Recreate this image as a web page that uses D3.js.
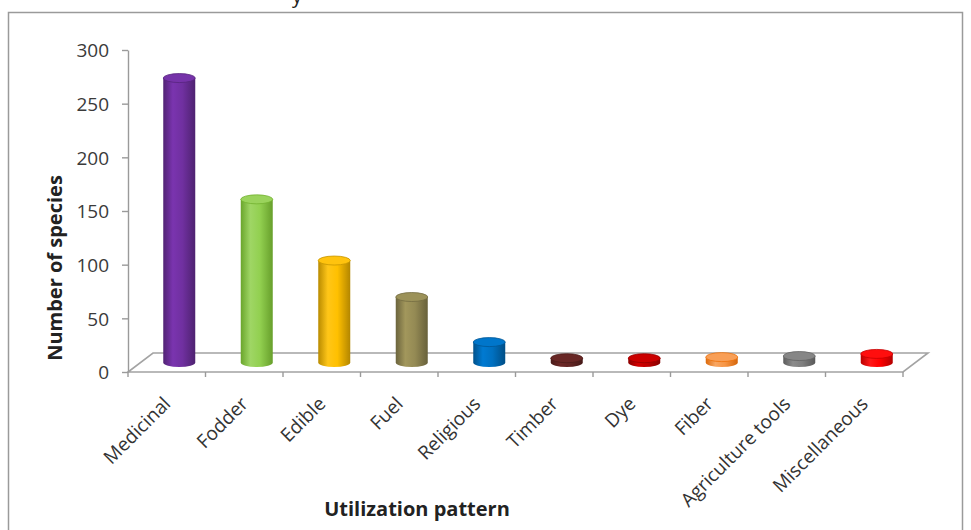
<!DOCTYPE html>
<html><head><meta charset="utf-8">
<script src="https://cdn.jsdelivr.net/npm/d3@7"></script>
<style>body{margin:0;background:#fff} svg{display:block}</style>
</head><body>
<svg id="chart" width="971" height="530"></svg>
<script>
// Plant species by utilization pattern
const categories = ["Medicinal", "Fodder", "Edible", "Fuel", "Religious", "Timber", "Dye", "Fiber", "Agriculture tools", "Miscellaneous"];
const speciesCounts = [265, 152, 95, 61, 19, 4, 4, 5, 6, 8];
const barColors = ["#7030A0", "#92D050", "#FFC000", "#948A54", "#0070C0", "#632523", "#C00000", "#F79646", "#7F7F7F", "#FF0000"];
const yTicks = [0, 50, 100, 150, 200, 250, 300];

const svg = d3.select("#chart");
const plot = { left: 128, right: 903, top: 50, bottom: 372 };
const depth = { dx: 25, dy: -19 };   // perspective offset of the floor's back edge
const font = "'Open Sans', 'Liberation Sans', sans-serif";

// outer frame
svg.append("rect").attr("x", 8.5).attr("y", 12.5).attr("width", 954).attr("height", 530)
  .attr("fill", "#fff").attr("stroke", "#9a9a9a").attr("stroke-width", 1.5);

// fragment of the caption line above the frame
svg.append("text").attr("x", 292).attr("y", 3).attr("font-family", font)
  .attr("font-size", 20).attr("fill", "#222").text("y");

const x = d3.scaleBand().domain(categories).range([plot.left, plot.right]).padding(0);
const y = d3.scaleLinear().domain([0, 300]).range([plot.bottom, plot.top]);

// floor of the 3D plot area
const floor = d3.path();
floor.moveTo(plot.left, plot.bottom);
floor.lineTo(plot.right, plot.bottom);
floor.lineTo(plot.right + depth.dx, plot.bottom + depth.dy);
floor.lineTo(plot.left + depth.dx, plot.bottom + depth.dy);
floor.closePath();
svg.append("path").attr("d", floor.toString()).attr("fill", "#fff")
  .attr("stroke", "#a3a3a3").attr("stroke-width", 1.6);

// category ticks along the front edge
const xTickPos = d3.range(categories.length + 1).map(i => plot.left + i * x.bandwidth());
svg.append("g").selectAll("line").data(xTickPos).join("line")
  .attr("x1", d => d).attr("x2", d => d)
  .attr("y1", plot.bottom).attr("y2", plot.bottom + 5)
  .attr("stroke", "#9a9a9a").attr("stroke-width", 1.4);

// y axis
const yAxis = d3.axisLeft(y).tickValues(yTicks).tickSizeInner(6).tickSizeOuter(0).tickPadding(13);
const gy = svg.append("g").attr("transform", `translate(${plot.left},0)`).call(yAxis);
gy.select(".domain").attr("stroke", "#9a9a9a").attr("stroke-width", 1.4);
gy.selectAll(".tick line").attr("stroke", "#9a9a9a").attr("stroke-width", 1.4);
gy.selectAll(".tick text").attr("font-family", font).attr("font-size", 19)
  .attr("fill", "#3a3a3a").attr("dy", "0.36em");

// cylinder gradients
const defs = svg.append("defs");
barColors.forEach((c, i) => {
  const base = d3.hsl(c);
  const g = defs.append("linearGradient").attr("id", "cyl" + i)
    .attr("x1", "0%").attr("x2", "100%").attr("y1", "0%").attr("y2", "0%");
  g.append("stop").attr("offset", "0%").attr("stop-color", base.darker(0.9));
  g.append("stop").attr("offset", "30%").attr("stop-color", base.brighter(0.25));
  g.append("stop").attr("offset", "60%").attr("stop-color", c);
  g.append("stop").attr("offset", "100%").attr("stop-color", base.darker(1.0));
});

// cylinders sit halfway into the floor depth
const rx = 16, ry = 4.5;
const bars = svg.append("g").selectAll("g").data(categories).join("g");
bars.each(function (cat, i) {
  const g = d3.select(this);
  const cx = x(cat) + x.bandwidth() / 2 + depth.dx / 2;
  const y0 = y(0) + depth.dy / 2;
  const y1 = y(speciesCounts[i]) + depth.dy / 2;
  const d = `M${cx - rx},${y1} L${cx - rx},${y0} A${rx},${ry} 0 0 0 ${cx + rx},${y0} L${cx + rx},${y1} Z`;
  g.append("path").attr("d", d).attr("fill", `url(#cyl${i})`);
  g.append("ellipse").attr("cx", cx).attr("cy", y1).attr("rx", rx).attr("ry", ry)
    .attr("fill", d3.hsl(barColors[i]).brighter(0.15))
    .attr("stroke", d3.hsl(barColors[i]).darker(0.7)).attr("stroke-width", 0.8);
});

// category labels
svg.append("g").selectAll("text").data(categories).join("text")
  .attr("transform", d => `translate(${x(d) + x.bandwidth() / 2 + 5},${plot.bottom + 33}) rotate(-45)`)
  .attr("text-anchor", "end")
  .attr("font-family", font).attr("font-size", 19).attr("fill", "#333")
  .text(d => d);

// axis titles
svg.append("text").attr("x", 417).attr("y", 516).attr("text-anchor", "middle")
  .attr("font-family", font).attr("font-weight", "bold").attr("font-size", 20).attr("fill", "#222")
  .text("Utilization pattern");
svg.append("text").attr("transform", "translate(62,268) rotate(-90)").attr("text-anchor", "middle")
  .attr("font-family", font).attr("font-weight", "bold").attr("font-size", 20).attr("fill", "#222")
  .text("Number of species");
</script>
</body></html>
